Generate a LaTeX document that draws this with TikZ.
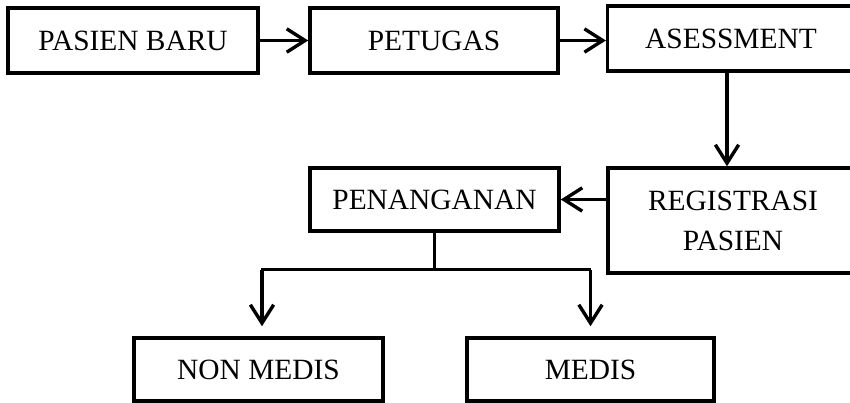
\documentclass[tikz,border=0pt]{standalone}
\usepackage{fontspec}
\setmainfont{Liberation Serif}
\usetikzlibrary{calc,arrows.meta}

\tikzset{
    kotak/.style={draw, line width=3pt, inner sep=0pt, minimum height=1.95cm,
        align=center, font=\fontsize{25.1}{34}\selectfont},
    panah/.style={line width=2.9pt, -{Straight Barb[length=0.55cm, width=0.7cm, line width=2.9pt]}},
    garis/.style={line width=2.9pt}
}

\begin{document}
\begin{tikzpicture}[x=0.03cm, y=-0.03cm]
    \clip (0,0) rectangle (850,403);

    % Top row
    \node[kotak, minimum width=7.5cm] (pasien) at (133,40.5) {PASIEN BARU};
    \node[kotak, minimum width=7.44cm] (petugas) at (434,40.5) {PETUGAS};
    \node[kotak, minimum width=7.4cm] (asesmen) at (731,38.5) {ASESSMENT};
    \draw[panah] (pasien.east) -- (petugas.west);
    \draw[panah] (petugas.east) -- (petugas.east -| asesmen.west);

    % Middle row
    \node[kotak, minimum width=7.5cm, minimum height=3.15cm] (regis) at (733,220.5) {REGISTRASI\\PASIEN};
    \node[kotak, minimum width=7.47cm, minimum height=1.89cm] (tangan) at (434.5,199.5) {PENANGANAN};
    \draw[panah] ($(asesmen.south)+(-4,0)$) -- ($(asesmen.south |- regis.north)+(-4,0)$);
    \draw[panah] (regis.west |- tangan.east) -- (tangan.east);

    % Bottom row
    \node[kotak, minimum width=7.47cm, minimum height=1.89cm] (nonmedis) at (258.5,369.5) {NON MEDIS};
    \node[kotak, minimum width=7.41cm, minimum height=1.89cm] (medis) at (590.5,369.5) {MEDIS};
    \draw[garis] (tangan.south) -- ++(0,37) coordinate (T);
    \draw[garis] ($(T -| nonmedis.north)+(2,0)$) -- (T -| medis.north);
    \draw[panah, shorten >=0.3cm] ($(T -| nonmedis.north)+(3.5,0)$) -- ($(nonmedis.north)+(3.5,0)$);
    \draw[panah, shorten >=0.3cm] (T -| medis.north) -- (medis.north);
\end{tikzpicture}
\end{document}
